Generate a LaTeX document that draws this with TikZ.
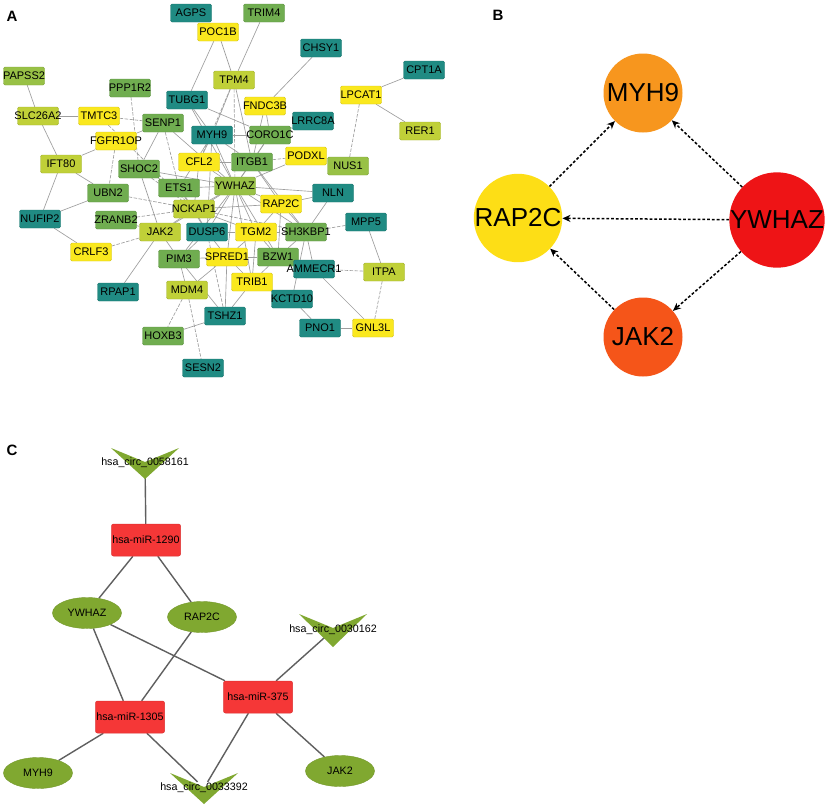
\documentclass[tikz,border=0pt]{standalone}
\usepackage{fontspec}
\setmainfont{Liberation Sans}
\usetikzlibrary{arrows.meta,shapes.geometric}
\pgfdeclarelayer{bg}
\pgfsetlayers{bg,main}
\definecolor{cTeal}{RGB}{32,139,131}
\definecolor{cGrn}{RGB}{112,173,80}
\definecolor{cOlv}{RGB}{152,193,70}
\definecolor{cLim}{RGB}{192,208,56}
\definecolor{cYel}{RGB}{250,232,30}
\definecolor{bMyhC}{RGB}{247,150,30}
\definecolor{bRapC}{RGB}{253,222,22}
\definecolor{bYwC}{RGB}{238,20,22}
\definecolor{bJakC}{RGB}{245,85,25}
\definecolor{cRed}{RGB}{245,55,55}
\definecolor{cGreenC}{RGB}{128,168,48}
\definecolor{edgeA}{RGB}{158,158,158}
\definecolor{edgeC}{RGB}{95,95,95}
\tikzset{
  abox/.style={rectangle, rounded corners=1.5pt, minimum width=41pt, minimum height=18pt,
    inner sep=0pt, line width=0.4pt, font=\fontsize{11}{12}\selectfont},
  ea/.style={draw=edgeA, line width=0.65pt},
  ed/.style={draw=edgeA, line width=0.65pt, dash pattern=on 3.5pt off 1.5pt},
  bcirc/.style={circle, minimum size=79pt, inner sep=0pt, font=\fontsize{26}{26}\selectfont},
  barrow/.style={draw=black, line width=1.5pt, dash pattern=on 2.8pt off 2pt,
    -{Stealth[length=8pt,width=7pt,inset=2.5pt]}},
  credbox/.style={rectangle, rounded corners=2pt, fill=cRed, draw=cRed!90!black, line width=0.5pt,
    minimum width=69pt, minimum height=32pt, inner sep=0pt, font=\fontsize{10.7}{12}\selectfont},
  cell/.style={ellipse, fill=cGreenC, draw=cGreenC!90!black, line width=0.4pt,
    minimum width=69pt, minimum height=31pt, inner sep=0pt, font=\fontsize{10.7}{12}\selectfont},
  clab/.style={inner sep=1pt, font=\fontsize{10.7}{12}\selectfont},
  ce/.style={draw=edgeC, line width=1.4pt},
  plabel/.style={font=\bfseries\fontsize{15}{15}\selectfont, inner sep=0pt}
}
\begin{document}
\begin{tikzpicture}[x=1pt,y=-1pt]
\useasboundingbox (0,0) rectangle (829,809);
\begin{pgfonlayer}{bg}
\fill[white] (0,0) rectangle (829,809);
\end{pgfonlayer}

% panel labels
\node[plabel] (labA) at (12,16) {A};
\node[plabel] (labB) at (498,15) {B};
\node[plabel] (labC) at (12,450) {C};

% ---------------- Panel A ----------------
\foreach \n/\x/\y/\c in {
  AGPS/191/13/cTeal, POC1B/218/32/cYel, TRIM4/264/13/cGrn, CHSY1/321/48/cTeal,
  CPT1A/424/70/cTeal, LPCAT1/361/95/cYel, RER1/420/131/cLim, TPM4/234/80/cLim,
  FNDC3B/265/106/cYel, LRRC8A/313/121/cTeal, CORO1C/270/135/cGrn, MYH9/212/135/cTeal,
  PODXL/306/156/cYel, TUBG1/187/100/cTeal, PAPSS2/24/76/cOlv, PPP1R2/130/88/cGrn,
  SLC26A2/38/116/cLim, TMTC3/99/116/cYel, SENP1/163/123/cGrn, FGFR1OP/116/141/cYel,
  IFT80/61/164/cLim, SHOC2/139/169/cGrn, CFL2/199/162/cYel, ITGB1/252/162/cGrn,
  ETS1/179/188/cGrn, YWHAZ/235/186/cOlv, RAP2C/281/204/cYel, NUS1/348/166/cOlv,
  NLN/333/193/cTeal, UBN2/108/193/cGrn, NUFIP2/40/219/cTeal, ZRANB2/116/220/cGrn,
  NCKAP1/194/209/cLim, MPP5/366/222/cTeal, JAK2/160/232/cLim, DUSP6/207/232/cTeal,
  TGM2/256/232/cYel, SH3KBP1/306/232/cGrn, CRLF3/91/252/cYel, PIM3/179/259/cGrn,
  SPRED1/227/257/cYel, BZW1/278/257/cGrn, AMMECR1/314/269/cTeal, ITPA/384/272/cLim,
  RPAP1/118/292/cTeal, MDM4/187/290/cLim, TRIB1/252/282/cYel, KCTD10/292/299/cTeal,
  TSHZ1/225/316/cTeal, HOXB3/163/336/cGrn, PNO1/320/328/cTeal, GNL3L/373/328/cYel,
  SESN2/203/368/cTeal}
  \node[abox, fill=\c, draw=\c!85!black] (\n) at (\x,\y) {\makebox[0pt]{\n}};

\begin{pgfonlayer}{bg}
\foreach \a/\b in {
  PAPSS2/SLC26A2, SLC26A2/TMTC3, SLC26A2/IFT80, IFT80/FGFR1OP, IFT80/UBN2, IFT80/NUFIP2,
  NUFIP2/UBN2, NUFIP2/CRLF3, FGFR1OP/SENP1, ZRANB2/JAK2, SHOC2/JAK2, SHOC2/YWHAZ,
  RPAP1/JAK2, JAK2/PIM3, JAK2/NCKAP1, JAK2/YWHAZ, PIM3/MDM4, PIM3/SPRED1, MDM4/SPRED1,
  TSHZ1/HOXB3, TSHZ1/TRIB1, TSHZ1/PIM3, KCTD10/PNO1, KCTD10/SH3KBP1, PNO1/GNL3L,
  GNL3L/AMMECR1, AMMECR1/SH3KBP1, AMMECR1/BZW1, ITPA/MPP5, NLN/SH3KBP1, NLN/YWHAZ,
  NLN/RAP2C, LPCAT1/CPT1A, LPCAT1/RER1, CHSY1/FNDC3B, TRIM4/TPM4, POC1B/TPM4, POC1B/TUBG1,
  TPM4/MYH9, TPM4/ITGB1, FNDC3B/CORO1C, FNDC3B/ITGB1, LRRC8A/CORO1C, CORO1C/MYH9,
  CORO1C/ITGB1, CORO1C/YWHAZ, TUBG1/MYH9, TUBG1/CORO1C, SENP1/YWHAZ, MYH9/CFL2, MYH9/ITGB1,
  MYH9/YWHAZ, MYH9/ETS1, CFL2/YWHAZ, CFL2/ITGB1, CFL2/NCKAP1, ITGB1/YWHAZ, ITGB1/RAP2C,
  PODXL/YWHAZ, ETS1/YWHAZ, ETS1/NCKAP1, ETS1/DUSP6, YWHAZ/RAP2C, YWHAZ/NCKAP1, YWHAZ/DUSP6,
  YWHAZ/TGM2, YWHAZ/SPRED1, YWHAZ/PIM3, YWHAZ/SH3KBP1, YWHAZ/BZW1, YWHAZ/TRIB1,
  RAP2C/SH3KBP1, RAP2C/TGM2, RAP2C/NCKAP1, NCKAP1/DUSP6, NCKAP1/TGM2, DUSP6/TGM2,
  DUSP6/SPRED1, DUSP6/PIM3, TGM2/SPRED1, TGM2/BZW1, TGM2/TRIB1, SPRED1/BZW1, SPRED1/TRIB1,
  SPRED1/TSHZ1, BZW1/SH3KBP1, BZW1/TRIB1, TRIB1/KCTD10, PODXL/NUS1, SH3KBP1/ITGB1,
  TUBG1/YWHAZ, SENP1/SHOC2, MYH9/DUSP6, RAP2C/BZW1}
  \path[ea] (\a) -- (\b);
\foreach \a/\b in {
  TMTC3/SENP1, CRLF3/JAK2, FGFR1OP/UBN2, PPP1R2/SHOC2, UBN2/NCKAP1, ZRANB2/NCKAP1,
  SHOC2/ETS1, SHOC2/NCKAP1, MDM4/HOXB3, MDM4/SESN2, GNL3L/ITPA, AMMECR1/ITPA,
  MPP5/SH3KBP1, LPCAT1/NUS1, TPM4/YWHAZ, TPM4/CFL2, ITGB1/PODXL, SENP1/ETS1,
  NCKAP1/SH3KBP1, TGM2/SH3KBP1, TMTC3/NCKAP1, TSHZ1/DUSP6}
  \path[ed] (\a) -- (\b);
\end{pgfonlayer}

% ---------------- Panel B ----------------
\node[bcirc, fill=bMyhC] (bMYH9) at (643,93) {MYH9};
\node[bcirc, fill=bRapC] (bRAP2C) at (518,218) {RAP2C};
\node[bcirc, fill=bYwC] (bYWHAZ) at (777,220) {YWHAZ};
\node[bcirc, fill=bJakC] (bJAK2) at (643,337) {JAK2};
\begin{pgfonlayer}{bg}
\draw[barrow] (bRAP2C) -- (bMYH9);
\draw[barrow] (bYWHAZ) -- (bMYH9);
\draw[barrow] (bYWHAZ) -- (bRAP2C);
\draw[barrow] (bYWHAZ) -- (bJAK2);
\draw[barrow] (bJAK2) -- (bRAP2C);
\end{pgfonlayer}

% ---------------- Panel C ----------------
\fill[cGreenC] (111,448) -- (145,462) -- (179,448) -- (145,479) -- cycle;
\fill[cGreenC] (299,614) -- (333,628) -- (367,614) -- (333,647) -- cycle;
\fill[cGreenC] (170,773) -- (204,787) -- (238,773) -- (204,804) -- cycle;
\node[clab] (c58161) at (145,463) {hsa\_circ\_0058161};
\node[clab] (c30162) at (333,630) {hsa\_circ\_0030162};
\node[clab] (c33392) at (204,788) {hsa\_circ\_0033392};

\node[credbox] (cM1290) at (146,540) {hsa-miR-1290};
\node[credbox] (cM375) at (258,697) {hsa-miR-375};
\node[credbox] (cM1305) at (130,717) {hsa-miR-1305};
\node[cell] (cYWHAZ) at (87,613) {YWHAZ};
\node[cell] (cRAP2C) at (202,617) {RAP2C};
\node[cell] (cMYH9) at (38,773) {MYH9};
\node[cell] (cJAK2) at (340,771) {JAK2};

\begin{pgfonlayer}{bg}
\path[ce] (c58161) -- (cM1290);
\path[ce] (cM1290) -- (cYWHAZ);
\path[ce] (cM1290) -- (cRAP2C);
\path[ce] (cYWHAZ) -- (cM1305);
\path[ce] (cYWHAZ) -- (cM375);
\path[ce] (cRAP2C) -- (cM1305);
\path[ce] (cM375) -- (c30162);
\path[ce] (cM1305) -- (cMYH9);
\path[ce] (cM1305) -- (c33392);
\path[ce] (cM375) -- (c33392);
\path[ce] (cM375) -- (cJAK2);
\end{pgfonlayer}
\end{tikzpicture}
\end{document}
